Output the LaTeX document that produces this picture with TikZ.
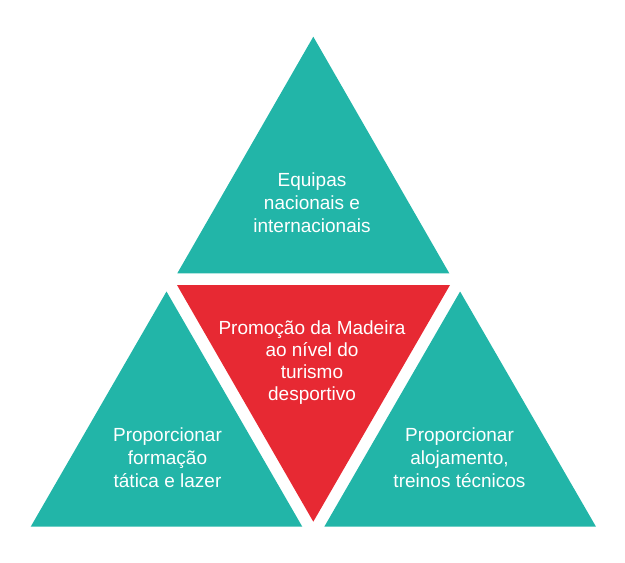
\documentclass[tikz,border=0pt]{standalone}
\usepackage{fontspec}
\setmainfont{Liberation Sans}
\definecolor{tealc}{RGB}{34,181,168}
\definecolor{redc}{RGB}{231,41,51}
\begin{document}
\begin{tikzpicture}[x=1pt,y=-1pt,
  tri/.style={fill=tealc,draw=none},
  redtri/.style={fill=redc,draw=none},
  lbl/.style={text=white,align=center,inner sep=0pt,anchor=base,
    font=\fontsize{19}{22.7}\selectfont}]
\useasboundingbox (0,0) rectangle (625,563);
% top triangle
\coordinate (t1) at (313.3,36.7);
\coordinate (t2) at (177.3,273.3);
\coordinate (t3) at (449.3,273.3);
% red triangle
\coordinate (r1) at (177,285);
\coordinate (r2) at (450,285);
\coordinate (r3) at (313.3,521.7);
% left triangle
\coordinate (l1) at (166.5,291.5);
\coordinate (l2) at (30.7,526.7);
\coordinate (l3) at (302.3,526.7);
% right triangle
\coordinate (q1) at (460.1,291.5);
\coordinate (q2) at (324.3,526.7);
\coordinate (q3) at (596,526.7);
\fill[tri] (t1) -- (t2) -- (t3) -- cycle;
\fill[redtri] (r1) -- (r2) -- (r3) -- cycle;
\fill[tri] (l1) -- (l2) -- (l3) -- cycle;
\fill[tri] (q1) -- (q2) -- (q3) -- cycle;
\node[lbl,font=\fontsize{19}{23.2}\selectfont] (top) at (312,232.5) {Equipas\\nacionais e\\internacionais};
\node[lbl,font=\fontsize{19}{21.7}\selectfont] (mid) at (312,400) {Promoção da Madeira\\ao nível do\\turismo\\desportivo};
\node[lbl] (left) at (167.5,487) {Proporcionar\\formação\\tática e lazer};
\node[lbl] (right) at (459.5,487) {Proporcionar\\alojamento,\\treinos técnicos};
\end{tikzpicture}
\end{document}
